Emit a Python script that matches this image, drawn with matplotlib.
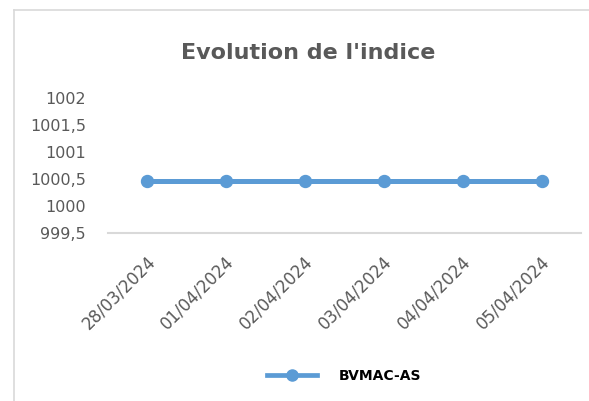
import matplotlib
matplotlib.use("Agg")
import matplotlib.pyplot as plt
from matplotlib.lines import Line2D
from matplotlib.transforms import ScaledTranslation

dates = ["28/03/2024", "01/04/2024", "02/04/2024", "03/04/2024", "04/04/2024", "05/04/2024"]
values = [1000.46, 1000.46, 1000.46, 1000.46, 1000.46, 1000.46]
yticks = [999.5, 1000, 1000.5, 1001, 1001.5, 1002]
ytick_labels = ["999,5", "1000", "1000,5", "1001", "1001,5", "1002"]
series_name = "BVMAC-AS"
title = "Evolution de l'indice"

plt.rcParams['font.family'] = ['DejaVu Sans']

W, H = 589, 401
fig = plt.figure(figsize=(W / 100, H / 100), dpi=100)
fig.patch.set_facecolor("white")

# chart border: only left and top edges fall inside the image
bx, by = 14 / W, 1 - 10 / H
fig.add_artist(Line2D([bx, bx], [0, by], transform=fig.transFigure, color="#d9d9d9", linewidth=1.2))
fig.add_artist(Line2D([bx, 1], [by, by], transform=fig.transFigure, color="#d9d9d9", linewidth=1.2))

ax = fig.add_axes([108 / W, 1 - 233 / H, (581 - 108) / W, (233 - 98) / H])
x = list(range(len(dates)))
color = "#5B9BD5"
ax.plot(x, values, color=color, linewidth=3.6, marker="o", markersize=8.6, clip_on=False, zorder=3)

ax.set_xlim(-0.5, len(dates) - 0.5)
ax.set_ylim(999.5, 1002)
ax.set_yticks(yticks)
ax.set_yticklabels(ytick_labels)
ax.set_xticks(x)
ax.set_xticklabels(dates, rotation=45, ha="right", va="center", rotation_mode="anchor")

for s in ["top", "right", "left"]:
    ax.spines[s].set_visible(False)
ax.spines["bottom"].set_color("#d9d9d9")
ax.spines["bottom"].set_linewidth(1.5)
ax.tick_params(axis="y", length=0, labelsize=11.5, labelcolor="#595959", pad=16)
ax.tick_params(axis="x", length=0, labelsize=12, labelcolor="#595959", pad=0)
offset = ScaledTranslation(0.05, -0.26, fig.dpi_scale_trans)
for lbl in ax.get_xticklabels():
    lbl.set_transform(lbl.get_transform() + offset)

fig.text(308 / W, 1 - 59 / H, title, ha="center", va="baseline", fontsize=16,
         fontweight="bold", color="#595959")

handle = Line2D([], [], color=color, linewidth=3.4, marker="o", markersize=8)
leg = fig.legend([handle], [series_name], loc="center left", bbox_to_anchor=(267 / W, 1 - 376 / H),
                 frameon=False, handlelength=3.6, handletextpad=1.6, borderpad=0,
                 borderaxespad=0, prop={"weight": "bold", "size": 10})
for t in leg.get_texts():
    t.set_color("black")

fig.savefig("out.png", dpi=100)
